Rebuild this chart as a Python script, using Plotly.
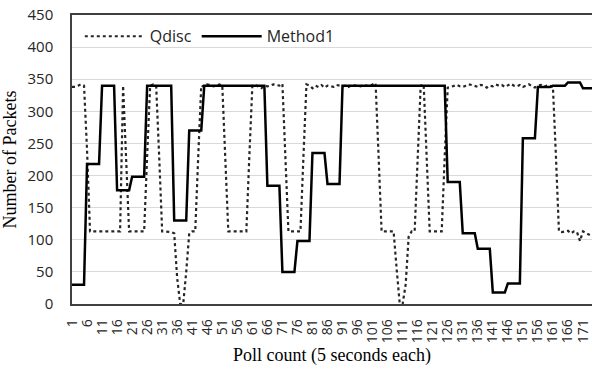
import plotly.graph_objects as go

# Poll index 1..174
polls = list(range(1, 175))

# Method1 values (step levels)
method1 = (
    [30] * 5 + [218] * 5 + [340] * 5 + [177] * 5 + [198] * 5 +
    [340] * 9 + [130] * 5 + [270] * 5 + [340] * 21 +
    [184] * 5 + [50] * 5 + [98] * 5 + [235] * 5 + [187] * 5 +
    [340] * 35 + [190] * 5 + [110] * 5 + [86] * 5 + [18] * 5 + [32] * 5 +
    [258] * 5 + [338] * 5 + [340] * 5 + [345] * 5 + [336] * 4
)

# Qdisc values
qdisc = (
    [338, 338, 340, 342, 340, 240] +                 # 1-6
    [113] * 11 +                                      # 7-17
    [340, 220] +                                      # 18-19
    [113] * 6 +                                       # 20-25
    [230, 340, 342, 340, 230] +                       # 26-30
    [113, 113, 113, 112, 110, 40, 0, 0, 50, 110, 113, 113, 230] +  # 31-43
    [340, 338, 342, 341, 339, 340, 342, 340, 230] +   # 44-52
    [113] * 7 +                                       # 53-59
    [230, 340, 341, 338, 336, 340, 339, 340, 342, 341, 340, 343, 230] +  # 60-72
    [113] * 5 +                                       # 73-77
    [230, 342, 340, 336, 340, 338, 341, 337, 340, 339, 338, 341, 340,
     339, 340, 338, 341, 340, 340, 339, 341, 340, 339, 342, 344, 230] +  # 78-103
    [113] * 5 +                                       # 104-108
    [55, 2, 0, 30, 105, 113, 113, 230, 340, 342, 230] +  # 109-119
    [113] * 5 +                                       # 120-124
    [230, 337, 338, 340, 341, 339, 338, 340, 342, 341, 339, 338, 341, 340,
     337, 340, 339, 342, 340, 341, 338, 340, 343, 340, 339, 341, 338, 340,
     342, 339, 337, 340, 341, 338, 340, 340, 338] +  # 125-161
    [230] +                                           # 162
    [113, 112, 113, 114, 110, 113, 112, 98, 113, 110, 108, 110]  # 163-174
)

x_tick_vals = list(range(1, 175, 5))
x_tick_text = [str(v) for v in x_tick_vals]

fig = go.Figure()
fig.add_trace(go.Scatter(
    x=polls, y=qdisc, mode="lines", name="Qdisc",
    line=dict(color="#262626", width=2.2, dash="dot"),
))
fig.add_trace(go.Scatter(
    x=polls, y=method1, mode="lines", name="Method1",
    line=dict(color="black", width=2.5),
))

fig.update_layout(
    width=592, height=371,
    margin=dict(l=72, r=0, t=15, b=67),
    paper_bgcolor="white", plot_bgcolor="white",
    showlegend=True,
    legend=dict(
        orientation="h", x=0.015, y=0.985, xanchor="left", yanchor="top",
        font=dict(family="Open Sans, sans-serif", size=16, color="#262626"),
        bgcolor="rgba(255,255,255,0)", itemwidth=60, tracegroupgap=0,
    ),
    xaxis=dict(
        range=[1, 174], tickmode="array", tickvals=x_tick_vals, ticktext=x_tick_text,
        tickangle=-90, showgrid=False, showline=True, linecolor="#404040", linewidth=1.5,
        mirror=True, ticks="outside", ticklen=8, tickcolor="rgba(255,255,255,0)",
        zeroline=False, automargin=False,
        tickfont=dict(family="Open Sans, sans-serif", size=14, color="#262626"),
        title=dict(text="Poll count (5 seconds each)",
                   font=dict(family="Liberation Serif, serif", size=18, color="black"),
                   standoff=6),
    ),
    yaxis=dict(
        range=[0, 450], dtick=50, showgrid=True, gridcolor="#d9d9d9", gridwidth=1,
        showline=True, linecolor="#404040", linewidth=1.5, mirror=True,
        ticks="outside", ticklen=14, tickcolor="rgba(255,255,255,0)",
        zeroline=False, automargin=False,
        tickfont=dict(family="Open Sans, sans-serif", size=15, color="#262626"),
        title=dict(text="Number of Packets",
                   font=dict(family="Liberation Serif, serif", size=18, color="black"),
                   standoff=6),
    ),
)

fig.write_html(
    "out.html",
    config={"displayModeBar": False},
    post_script="document.body.style.margin='0';document.body.style.overflow='hidden';",
)
